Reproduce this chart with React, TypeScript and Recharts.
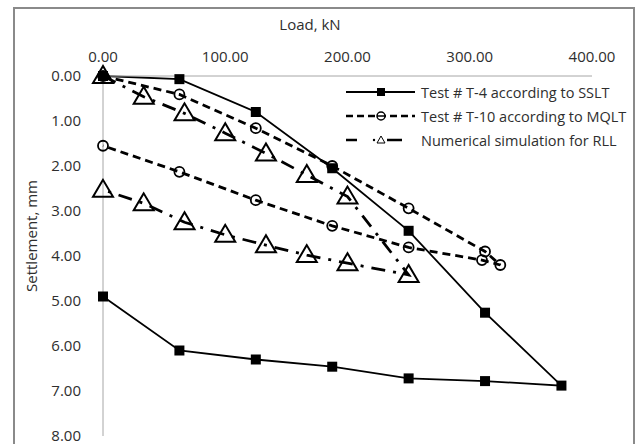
import React from 'react';
import { LineChart, Line, XAxis, YAxis, Label } from 'recharts';

// Load (kN) / settlement (mm) readings, loading then unloading
const t4Load = [0, 62.5, 125, 187.5, 250, 312.5, 375, 312.5, 250, 187.5, 125, 62.5, 0];
const t4Settle = [0, 0.07, 0.8, 2.05, 3.44, 5.26, 6.88, 6.78, 6.72, 6.46, 6.3, 6.1, 4.9];

const t10Load = [0, 62.5, 125, 187.5, 250, 312.5, 325, 310, 250, 187.5, 125, 62.5, 0];
const t10Settle = [0, 0.41, 1.16, 2.0, 2.94, 3.9, 4.2, 4.09, 3.81, 3.33, 2.76, 2.13, 1.55];

const simLoad = [0, 33.3, 66.7, 100, 133.3, 166.7, 200, 250, 200, 166.7, 133.3, 100, 66.7, 33.3, 0];
const simSettle = [0, 0.46, 0.83, 1.27, 1.72, 2.2, 2.68, 4.42, 4.16, 3.98, 3.76, 3.53, 3.25, 2.83, 2.53];

const seriesNames = [
  'Test # T-4 according to SSLT',
  'Test # T-10 according to MQLT',
  'Numerical simulation for RLL',
];

const xTicks = [0, 100, 200, 300, 400];
const yTicks = [0, 1, 2, 3, 4, 5, 6, 7, 8];

const toRows = (loads: number[], settles: number[]) =>
  loads.map((load, i) => ({ load, settle: settles[i] }));

const t4Data = toRows(t4Load, t4Settle);
const t10Data = toRows(t10Load, t10Settle);
const simData = toRows(simLoad, simSettle);

const FONT = '"Open Sans", sans-serif';
const TEXT = '#2e2e2e';

const SquareDot = (props: any) => {
  const { cx, cy, index } = props;
  return <rect key={`sq-${index}`} x={cx - 5} y={cy - 5} width={10} height={10} fill="#000" />;
};

const CircleDot = (props: any) => {
  const { cx, cy, index } = props;
  return <circle key={`ci-${index}`} cx={cx} cy={cy} r={5} fill="none" stroke="#000" strokeWidth={1.8} />;
};

const TriangleDot = (props: any) => {
  const { cx, cy, index } = props;
  const pts = `${cx},${cy - 10} ${cx - 10},${cy + 7} ${cx + 10},${cy + 7}`;
  return <polygon key={`tr-${index}`} points={pts} fill="none" stroke="#000" strokeWidth={2} />;
};

const LegendBox = () => (
  <div style={{ fontFamily: FONT, fontSize: 14.5, color: TEXT }}>
    {seriesNames.map((name, i) => (
      <div key={name} style={{ display: 'flex', alignItems: 'center', height: 24 }}>
        <svg width={76} height={20}>
          {i === 0 && (
            <g>
              <line x1={3} y1={10} x2={72} y2={10} stroke="#000" strokeWidth={2} />
              <rect x={34} y={6} width={8} height={8} fill="#000" />
            </g>
          )}
          {i === 1 && (
            <g>
              <line x1={3} y1={10} x2={72} y2={10} stroke="#000" strokeWidth={2.5} strokeDasharray="7 4" />
              <circle cx={38} cy={10} r={4} fill="#fff" stroke="#000" strokeWidth={1.5} />
              <line x1={34} y1={10} x2={42} y2={10} stroke="#000" strokeWidth={1.5} />
            </g>
          )}
          {i === 2 && (
            <g>
              <line x1={3} y1={10} x2={14} y2={10} stroke="#000" strokeWidth={2.5} />
              <circle cx={31} cy={10} r={1.2} fill="#000" />
              <polygon points="38,6 34,13 42,13" fill="none" stroke="#000" strokeWidth={1} />
              <line x1={44} y1={10} x2={59} y2={10} stroke="#000" strokeWidth={2.5} />
            </g>
          )}
        </svg>
        <span style={{ marginLeft: 2, whiteSpace: 'nowrap' }}>{name}</span>
      </div>
    ))}
  </div>
);

export default function App() {
  return (
    <div
      style={{
        position: 'absolute',
        left: 0,
        top: 0,
        width: 638,
        height: 444,
        overflow: 'hidden',
        background: '#fff',
      }}
    >
      <div
        style={{
          position: 'absolute',
          left: 13,
          top: 7,
          width: 618,
          height: 460,
          border: '2px solid #8a8a8a',
        }}
      />
      <div style={{ position: 'absolute', left: 0, top: 0 }}>
        <LineChart
          width={638}
          height={444}
          margin={{ top: 8, right: 46, bottom: 8, left: 0 }}
          style={{ fontFamily: FONT }}
        >
          <XAxis
            dataKey="load"
            type="number"
            orientation="top"
            domain={[0, 400]}
            ticks={xTicks}
            tickFormatter={(v: number) => v.toFixed(2)}
            tick={{ fill: TEXT, fontSize: 15, fontFamily: FONT }}
            tickLine={false}
            axisLine={{ stroke: '#a6a6a6', strokeWidth: 1 }}
            height={68}
            tickMargin={8}
            allowDuplicatedCategory={false}
          >
            <Label
              content={() => (
                <text x={310} y={30} textAnchor="middle" fill={TEXT} fontSize={15} fontFamily={FONT}>
                  Load, kN
                </text>
              )}
            />
          </XAxis>
          <YAxis
            dataKey="settle"
            type="number"
            reversed
            domain={[0, 8]}
            ticks={yTicks}
            tickFormatter={(v: number) => v.toFixed(2)}
            tick={{ fill: TEXT, fontSize: 15, fontFamily: FONT }}
            tickLine={false}
            axisLine={{ stroke: '#a6a6a6', strokeWidth: 1 }}
            width={103}
            tickMargin={16}
          >
            <Label
              content={() => (
                <text
                  x={37}
                  y={236}
                  textAnchor="middle"
                  transform="rotate(-90 37 236)"
                  fill={TEXT}
                  fontSize={15}
                  fontFamily={FONT}
                >
                  Settlement, mm
                </text>
              )}
            />
          </YAxis>
          <Line
            data={t4Data}
            dataKey="settle"
            name={seriesNames[0]}
            stroke="#000"
            strokeWidth={1.8}
            dot={SquareDot}
            activeDot={false}
            isAnimationActive={false}
          />
          <Line
            data={t10Data}
            dataKey="settle"
            name={seriesNames[1]}
            stroke="#000"
            strokeWidth={2.8}
            strokeDasharray="8 5"
            dot={CircleDot}
            activeDot={false}
            isAnimationActive={false}
          />
          <Line
            data={simData}
            dataKey="settle"
            name={seriesNames[2]}
            stroke="#000"
            strokeWidth={2.8}
            strokeDasharray="14 8 3 8"
            dot={TriangleDot}
            activeDot={false}
            isAnimationActive={false}
          />
        </LineChart>
      </div>
      <div style={{ position: 'absolute', left: 343, top: 80 }}>
        <LegendBox />
      </div>
    </div>
  );
}
